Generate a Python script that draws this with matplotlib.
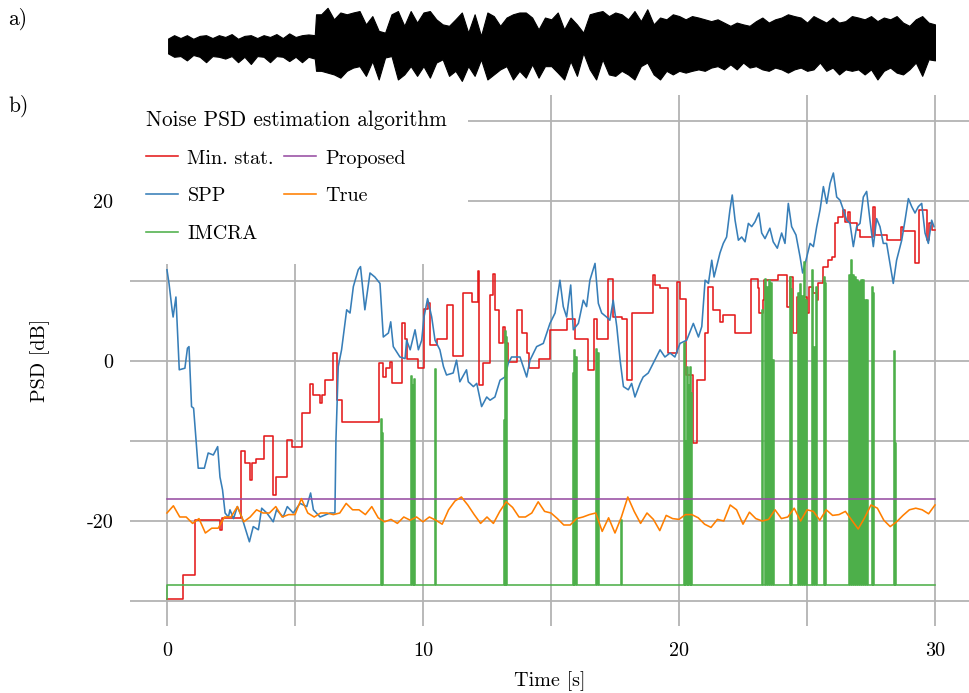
import matplotlib.pyplot as plt
import numpy as np

plt.rcParams['font.family'] = ['cmr10', 'DejaVu Serif']
plt.rcParams['axes.formatter.use_mathtext'] = True
plt.rcParams['mathtext.fontset'] = 'cm'

FS = 14.5

# ---- a) signal envelope (normalised amplitude), read every 0.25 s ----
env_t = np.r_[np.arange(0, 5.8, 0.25), 5.8, np.arange(6.0, 30.01, 0.25)]
env_hi = [0.2, 0.3, 0.22, 0.3, 0.2, 0.28, 0.3, 0.22, 0.3, 0.25, 0.33, 0.2,
          0.28, 0.3, 0.22, 0.3, 0.25, 0.33, 0.22, 0.35, 0.25, 0.3, 0.32, 0.3,
          0.88,
          0.88, 1.06, 0.74, 0.93, 0.88, 0.93, 0.97, 0.6, 0.83, 0.42, 0.37, 0.88,
          0.97, 0.56, 0.97, 0.65, 0.93, 0.97, 0.74, 0.6, 0.56, 0.74, 0.93, 0.37,
          0.88, 0.28, 0.93, 0.83, 0.56, 0.79, 0.88, 0.93, 0.93, 0.79, 0.46, 0.79,
          0.74, 0.93, 0.46, 0.79, 0.6, 0.37, 0.88, 0.93, 0.97, 0.83, 0.93, 0.88,
          0.74, 0.97, 0.69, 1.02, 0.6, 0.79, 0.74, 0.88, 0.83, 0.74, 0.83, 0.79,
          0.74, 0.69, 0.74, 0.65, 0.56, 0.65, 0.6, 0.56, 0.69, 0.79, 0.65, 0.74,
          0.79, 0.88, 0.83, 0.79, 0.65, 0.83, 0.74, 0.65, 0.79, 0.65, 0.69, 0.83,
          0.79, 0.74, 0.83, 0.69, 0.79, 0.74, 0.83, 0.65, 0.56, 0.74, 0.83, 0.65,
          0.6]
env_lo = [-0.2, -0.3, -0.28, -0.4, -0.25, -0.3, -0.45, -0.28, -0.3, -0.35, -0.28, -0.45,
          -0.3, -0.5, -0.28, -0.3, -0.45, -0.28, -0.3, -0.42, -0.3, -0.45, -0.3, -0.35,
          -0.69,
          -0.69, -0.74, -0.79, -0.88, -0.69, -0.6, -0.56, -0.83, -0.42, -0.93, -0.32, -0.28,
          -0.93, -0.79, -0.56, -0.83, -0.56, -0.88, -0.46, -0.37, -0.83, -0.69, -0.97, -0.56,
          -0.83, -0.37, -0.93, -0.79, -0.65, -0.56, -0.93, -0.69, -0.88, -0.51, -0.88, -0.56,
          -0.56, -0.74, -0.93, -0.42, -0.83, -0.19, -0.65, -0.93, -0.37, -0.79, -0.83, -0.69,
          -0.79, -0.93, -0.56, -0.46, -0.79, -0.93, -0.69, -0.79, -0.69, -0.74, -0.69, -0.65,
          -0.69, -0.6, -0.56, -0.65, -0.51, -0.65, -0.46, -0.6, -0.56, -0.65, -0.69, -0.6,
          -0.65, -0.74, -0.65, -0.6, -0.69, -0.65, -0.46, -0.69, -0.6, -0.79, -0.65, -0.69,
          -0.65, -0.79, -0.65, -0.93, -0.69, -0.6, -0.74, -0.79, -0.65, -0.46, -0.83, -0.37,
          -0.4]

# ---- b) noise PSD estimates [dB] ----
# Min. stat. (piecewise constant, value holds from each time on)
ms_t = [0, 0.64, 1.09, 2.08, 2.14, 2.88, 3.05, 3.24, 3.31, 3.48, 3.79, 4.13, 4.26, 4.67,
        4.87, 5.29, 5.59, 5.72, 5.98, 6.04, 6.17, 6.47, 6.65, 6.85, 8.28, 8.42, 8.55, 8.72,
        8.78, 9.17, 9.3, 9.36, 9.79, 10.05, 10.21, 10.27, 10.53, 10.95, 11.18, 11.55, 11.9,
        12.16, 12.2, 12.36, 12.62, 12.75, 12.81, 12.95, 13.14, 13.2, 13.33, 13.68, 13.85,
        14.08, 14.15, 14.54, 14.96, 15.61, 15.94, 16.46, 16.68, 16.81, 17.24, 17.41, 17.76,
        17.96, 18.15, 19.0, 19.06, 19.26, 19.58, 19.94, 20.04, 20.26, 20.56, 20.72, 21.02,
        21.15, 21.34, 21.6, 21.73, 22.19, 22.81, 23.1, 23.13, 23.27, 23.32, 23.88, 24.2,
        24.33, 24.46, 24.6, 24.99, 25.09, 25.25, 25.38, 25.44, 25.64, 25.83, 25.96, 26.1,
        26.22, 26.42, 26.49, 26.62, 26.68, 26.94, 27.07, 27.59, 27.66, 28.11, 28.66, 28.76,
        29.2, 29.37, 29.7, 29.76, 29.9, 30]
ms_db = [-29.7, -26.75, -19.9, -21.1, -19.6, -11.3, -12.8, -14.9, -12.8, -12.2, -9.4, -16.75,
         -14.5, -9.9, -10.7, -6.5, -2.9, -4.25, -5.3, -4.25, -2.4, 1.0, -4.9, -7.6, -0.3, -2.0,
         -0.9, -0.1, -2.7, 4.7, 2.8, 0.2, -0.9, 6.5, 7.2, 2.0, 2.7, 7.0, 0.6, 8.5, 7.4, 11.2,
         -3.0, -0.3, 8.25, 10.9, 6.4, 2.2, 4.3, 2.2, -0.1, 6.4, 3.5, 1.0, -0.9, 0.3, 3.9, 5.3,
         2.8, -1.1, 5.3, 2.8, 10.2, 5.5, 5.3, -2.4, 6.0, 10.75, 9.5, 9.1, 1.0, 9.9, 7.8, -1.75,
         -10.3, -2.4, 3.5, 9.3, 6.4, 4.9, 5.7, 3.5, 10.3, 9.1, 6.0, 7.6, 10.1, 10.75, 6.8,
         10.5, 3.5, 8.0, 6.0, 9.3, 8.5, 7.6, 9.7, 11.8, 12.6, 13.0, 17.2, 18.0, 18.9, 17.4,
         18.6, 17.2, 16.4, 15.5, 19.3, 15.75, 15.1, 16.8, 16.2, 12.2, 18.9, 15.1, 17.2, 16.4,
         16.4]

# SPP
spp_t = [0, 0.08, 0.2, 0.24, 0.35, 0.48, 0.7, 0.8, 0.86, 0.96, 1.04, 1.22, 1.46, 1.61, 1.81,
         1.98, 2.07, 2.17, 2.27, 2.4, 2.46, 2.6, 2.75, 2.92, 3.22, 3.37, 3.57, 3.7, 3.9, 4.15,
         4.28, 4.54, 4.7, 4.93, 5.2, 5.46, 5.61, 5.72, 5.98, 6.37, 6.56, 6.6, 6.69, 6.82, 7.02,
         7.15, 7.28, 7.47, 7.56, 7.73, 7.93, 8.12, 8.32, 8.45, 8.65, 8.74, 8.84, 9.1, 9.3,
         9.36, 9.5, 9.69, 9.82, 9.95, 10.04, 10.18, 10.34, 10.47, 10.66, 10.8, 10.92, 11.18,
         11.31, 11.44, 11.7, 11.77, 11.97, 12.1, 12.29, 12.49, 12.62, 12.81, 13.01, 13.2,
         13.33, 13.46, 13.79, 14.05, 14.18, 14.44, 14.7, 14.96, 15.16, 15.35, 15.48, 15.61,
         15.77, 15.87, 16.07, 16.26, 16.39, 16.52, 16.72, 16.85, 16.98, 17.17, 17.3, 17.43,
         17.57, 17.7, 17.83, 18.02, 18.15, 18.28, 18.48, 18.6, 18.8, 18.99, 19.26, 19.45,
         19.65, 19.84, 20.04, 20.3, 20.56, 20.76, 20.89, 21.02, 21.15, 21.28, 21.37, 21.47,
         21.6, 21.73, 21.86, 21.99, 22.08, 22.19, 22.32, 22.45, 22.58, 22.71, 22.84, 22.97,
         23.12, 23.23, 23.36, 23.55, 23.68, 23.84, 24.01, 24.14, 24.27, 24.4, 24.57, 24.73,
         24.83, 24.96, 25.12, 25.25, 25.38, 25.51, 25.64, 25.77, 25.9, 26.03, 26.16, 26.29,
         26.42, 26.55, 26.68, 26.81, 26.94, 27.07, 27.2, 27.33, 27.46, 27.59, 27.72, 27.85,
         27.98, 28.11, 28.24, 28.37, 28.5, 28.7, 28.83, 28.96, 29.09, 29.22, 29.35, 29.48,
         29.61, 29.74, 29.87, 29.96]
spp_db = [11.4, 9.7, 6.4, 5.5, 8.0, -1.1, -0.9, 1.6, 1.8, -5.7, -5.9, -13.4, -13.4, -11.5,
          -11.75, -10.7, -14.5, -16.1, -19.0, -19.5, -18.6, -19.7, -18.2, -19.5, -22.6, -20.7,
          -21.1, -18.4, -19.0, -20.1, -18.6, -19.5, -18.2, -19.0, -17.8, -18.2, -16.5, -18.6,
          -19.5, -19.0, -19.0, -9.9, -0.7, 1.4, 6.4, 6.0, 9.3, 11.4, 11.8, 6.4, 11.0, 10.5,
          9.7, 3.0, 3.5, 4.9, 1.8, 0.5, 0.3, 2.6, 1.4, 3.9, 1.4, 2.6, 5.5, 7.8, 5.5, 2.6, 1.4,
          -0.7, -1.75, -1.5, 0.1, -2.6, -1.1, -2.6, -3.2, -2.8, -5.7, -4.5, -4.9, -4.5, -2.4,
          -2.0, -0.3, 0.5, 0.5, -2.0, 0.1, 1.8, 2.2, 4.7, 6.0, 10.1, 6.8, 5.5, 9.5, 3.9, 4.7,
          7.6, 6.8, 10.1, 12.2, 7.2, 6.0, 5.5, 5.1, 7.6, 4.3, 0.1, -3.2, -3.6, -2.8, -4.5,
          -2.8, -2.0, -1.5, -0.3, 1.4, 0.5, 1.0, 0.5, 2.2, 2.6, 4.7, 3.0, 4.3, 10.1, 9.7,
          12.6, 10.5, 11.8, 13.5, 14.7, 15.5, 18.9, 20.75, 17.6, 15.1, 15.5, 14.9, 17.2, 16.8,
          17.4, 18.5, 16.0, 15.3, 16.6, 14.9, 14.1, 16.0, 14.7, 19.7, 16.8, 15.75, 13.0, 11.0,
          12.6, 14.7, 14.3, 16.8, 18.9, 21.8, 19.7, 22.2, 23.5, 20.5, 20.1, 18.9, 17.6, 17.2,
          14.3, 16.8, 17.2, 20.5, 21.2, 17.6, 14.3, 17.8, 16.8, 14.7, 14.7, 12.2, 9.7, 12.6,
          15.1, 17.6, 20.3, 19.3, 18.5, 19.3, 19.7, 16.0, 14.7, 17.6, 16.8]

# IMCRA: floor level with short bursts (burst time, burst level)
imcra_floor = -28.0
imcra_start = -29.7
imcra_burst_t = [8.38, 8.42, 9.57, 9.62, 9.66, 10.5, 13.18, 13.22, 13.27, 15.88, 15.93, 15.98,
                 16.79, 16.85, 17.76, 20.2, 20.26, 20.33, 20.38, 20.45, 20.5, 23.27, 23.36,
                 23.45, 23.52, 23.61, 23.68, 24.34, 24.38, 24.66, 24.73, 24.82, 24.92, 24.99,
                 25.22, 25.31, 25.38, 25.67, 25.71, 26.65, 26.74, 26.81, 26.9, 26.98, 27.04,
                 27.11, 27.2, 27.29, 27.37, 27.54, 27.6, 28.41, 28.45]
imcra_burst_db = [-7.2, -9.0, -1.9, -3.0, -2.2, -1.0, -7.4, 3.7, 3.0, -1.5, 1.4, 0.5, 1.5,
                  1.0, -19.9, 2.2, -10.0, -0.7, -3.0, -0.7, -4.0, 6.4, 10.2, 9.3, 10.1, 9.7,
                  0.1, 10.5, 9.0, 8.5, 9.6, 8.1, 12.4, 7.6, 11.4, 1.8, 9.3, 10.5, 9.8, 10.75,
                  12.6, 10.75, 10.5, 10.1, 9.9, 10.1, 10.1, 7.6, 7.6, 9.3, 8.5, 1.2, -10.3]

# Proposed
prop_t = [0, 30]
prop_db = [-17.2, -17.2]

# True noise PSD, every 0.25 s
true_t = np.arange(0, 30.01, 0.25)
true_db = [-19.0, -18.1, -19.5, -19.5, -20.3, -19.7, -21.5, -20.9, -20.9, -19.5, -19.5, -18.2,
           -20.1, -19.5, -18.6, -19.0, -19.0, -18.2, -19.5, -19.2, -19.2, -17.2, -19.0, -19.5,
           -19.0, -19.0, -19.2, -19.0, -17.8, -18.6, -18.6, -19.2, -18.2, -19.6, -20.1, -19.8,
           -20.3, -19.5, -19.9, -19.5, -20.1, -19.5, -19.9, -20.4, -18.6, -17.5, -17.0, -18.0,
           -19.2, -20.3, -19.5, -20.3, -18.8, -17.6, -18.3, -19.5, -19.5, -19.0, -17.6, -18.8,
           -19.0, -19.7, -20.5, -20.5, -19.7, -19.5, -19.2, -19.0, -21.3, -19.6, -21.5, -19.5,
           -17.0, -18.8, -20.3, -19.0, -19.8, -21.2, -19.3, -19.7, -19.8, -19.2, -19.2, -19.6,
           -20.4, -20.8, -19.8, -20.0, -18.0, -18.6, -20.4, -18.9, -19.7, -20.0, -19.8, -18.6,
           -19.7, -19.5, -18.4, -20.0, -18.6, -18.8, -19.9, -18.6, -19.3, -19.2, -18.8, -19.9,
           -21.0, -19.6, -18.0, -18.4, -19.9, -20.7, -20.1, -19.3, -18.6, -18.4, -18.6, -19.1,
           -18.0]

# build the IMCRA trace from floor + bursts
w = 0.02
im_t = [0, 0]
im_db = [imcra_start, imcra_floor]
for bt, bv in zip(imcra_burst_t, imcra_burst_db):
    im_t += [bt - w, bt - w, bt + w, bt + w]
    im_db += [imcra_floor, bv, bv, imcra_floor]
im_t.append(30)
im_db.append(imcra_floor)

colors = {'ms': '#e41a1c', 'spp': '#377eb8', 'imcra': '#4daf4a',
          'prop': '#984ea3', 'true': '#ff7f00'}

fig = plt.figure(figsize=(9.7, 6.93), dpi=100)

# waveform panel
axw = fig.add_axes([0.1729, 0.8713, 0.791, 0.1247])
axw.fill_between(env_t, env_lo, env_hi, color='black', lw=0.8, edgecolor='black')
axw.set_xlim(0, 30)
axw.set_ylim(-1.2, 1.2)
axw.axis('off')

# PSD panel
ax = fig.add_axes([0.1340, 0.0971, 0.8660, 0.7658])
lw = 1.15
ax.plot(ms_t, ms_db, color=colors['ms'], lw=lw, drawstyle='steps-post', label='Min. stat.')
ax.plot(spp_t, spp_db, color=colors['spp'], lw=lw, label='SPP')
ax.plot(im_t, im_db, color=colors['imcra'], lw=lw, label='IMCRA')
ax.plot(prop_t, prop_db, color=colors['prop'], lw=lw, label='Proposed')
ax.plot(true_t, true_db, color=colors['true'], lw=lw, label='True')

ax.set_xlim(-1.445, 31.367)
ax.set_ylim(-33.09, 33.25)
ax.set_xticks(np.arange(0, 31, 5))
ax.set_xticklabels(['0', '', '10', '', '20', '', '30'])
ax.set_yticks(np.arange(-30, 31, 10))
ax.set_yticklabels(['', '-20', '', '0', '', '20', ''])
ax.tick_params(length=0, labelsize=FS, pad=12)
ax.grid(True, color='#b3b3b3', lw=1.3)
ax.set_axisbelow(True)
for s in ax.spines.values():
    s.set_visible(False)

ax.set_xlabel('Time [s]', fontsize=FS, labelpad=8)
ax.set_ylabel('PSD [dB]', fontsize=FS, labelpad=26)

# legend box sits in the top-left corner and hides the grid behind it
ax_w = 0.8660 * 970
ax_h = 0.7658 * 693
leg = ax.legend(ncol=2, loc='upper left',
                bbox_to_anchor=(-5 / ax_w, 1 + 6 / ax_h), borderaxespad=0,
                title='Noise PSD estimation algorithm', alignment='left',
                fontsize=FS, title_fontsize=15.3, frameon=True, fancybox=False,
                framealpha=1, facecolor='white', edgecolor='none',
                handlelength=1.6, handletextpad=0.45, columnspacing=0.5,
                labelspacing=0.98, borderpad=1.05)

fig.text(8 / 970, 1 - 19 / 693, 'a)', fontsize=FS + 1, va='center', ha='left')
fig.text(8 / 970, 1 - 106 / 693, 'b)', fontsize=FS + 1, va='center', ha='left')

fig.savefig('out.png', dpi=100)
